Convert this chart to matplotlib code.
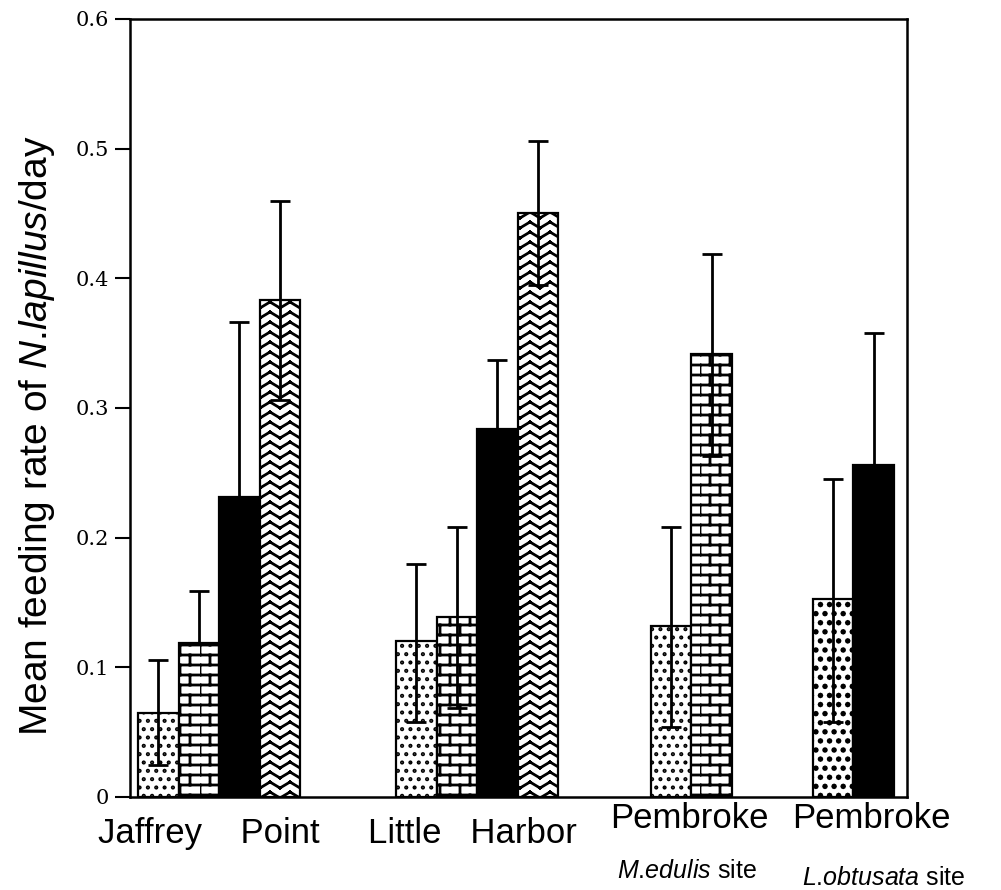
import warnings
import numpy as np
import matplotlib
matplotlib.use('Agg')
import matplotlib.pyplot as plt
import matplotlib.hatch as mhatch
from matplotlib.path import Path

warnings.filterwarnings('ignore')

# feeding rates (mean, upper and lower end of error bar)
sites = ['Jaffrey    Point', 'Little   Harbor', 'Pembroke', 'Pembroke']
subtitles = [None, None, ('M', 'edulis'), ('L', 'obtusata')]
patterns = [['dots', 'brick', 'black', 'wave'],
            ['dots', 'brick', 'black', 'wave'],
            ['dots', 'brick'],
            ['dense', 'black']]
means = [[0.065, 0.119, 0.231, 0.383],
         [0.120, 0.139, 0.284, 0.450],
         [0.132, 0.342],
         [0.153, 0.256]]
upper = [[0.106, 0.159, 0.366, 0.460],
         [0.180, 0.208, 0.337, 0.506],
         [0.208, 0.419],
         [0.245, 0.358]]
lower = [[0.025, np.nan, np.nan, 0.306],
         [0.058, 0.069, np.nan, 0.395],
         [0.054, 0.263],
         [0.058, np.nan]]
yticks = [0, 0.1, 0.2, 0.3, 0.4, 0.5, 0.6]
yticklabels = ['0', '0.1', '0.2', '0.3', '0.4', '0.5', '0.6']


# ---- custom hatches (brick, zigzag, dots) ----
def _segments(segs):
    v, c = [], []
    for p0, p1 in segs:
        v += [p0, p1]
        c += [Path.MOVETO, Path.LINETO]
    return np.array(v, float).reshape(-1, 2), np.array(c, Path.code_type)


def _dots(n, r):
    t = np.linspace(0, 2 * np.pi, 9)[:-1]
    v, c = [], []
    for i in range(n):
        for j in range(n):
            x = (j + 0.25 + 0.5 * (i % 2)) / n
            y = (i + 0.5) / n
            pts = np.c_[x + r / n * np.cos(t), y + r / n * np.sin(t)]
            v += list(pts) + [pts[0]]
            c += [Path.MOVETO] + [Path.LINETO] * 7 + [Path.CLOSEPOLY]
    return np.array(v, float), np.array(c, Path.code_type)


def _brick(rows=10, cols=5):
    segs = []
    for k in range(rows):
        y0 = (k + 0.5) / rows
        segs.append(((0, y0), (1, y0)))
        y1 = y0 + 1 / rows
        for j in range(cols):
            x = (j + 0.5 * (k % 2)) / cols
            if y1 > 1:
                segs.append(((x, y0), (x, 1)))
                segs.append(((x, 0), (x, y1 - 1)))
            else:
                segs.append(((x, y0), (x, y1)))
    return _segments(segs)


def _zigzag(rows=10, peaks=5):
    segs = []
    a = 0.3 / rows
    for r in range(rows):
        yb = (r + 0.5) / rows
        xs = np.arange(2 * peaks + 1) / (2 * peaks)
        ys = yb + np.where(np.arange(2 * peaks + 1) % 2 == 1, a, -a)
        for k in range(2 * peaks):
            segs.append(((xs[k], ys[k]), (xs[k + 1], ys[k + 1])))
    return _segments(segs)


def make_hatch(char, builder):
    class _Hatch(mhatch.HatchPatternBase):
        def __init__(self, hatch, density):
            if hatch and char in hatch:
                self.verts, self.codes = builder()
            else:
                self.verts, self.codes = np.empty((0, 2)), np.empty(0, Path.code_type)
            self.num_vertices = len(self.verts)

        def set_vertices_and_codes(self, vertices, codes):
            vertices[:] = self.verts
            codes[:] = self.codes
    return _Hatch


mhatch._hatch_types.extend([
    make_hatch('b', _brick),
    make_hatch('z', _zigzag),
    make_hatch('d', lambda: _dots(12, 0.08)),
    make_hatch('g', lambda: _dots(11, 0.15)),
])

styles = {
    'dots': dict(facecolor='white', hatch='d'),
    'brick': dict(facecolor='white', hatch='b'),
    'black': dict(facecolor='black', hatch=None),
    'wave': dict(facecolor='white', hatch='z'),
    'dense': dict(facecolor='white', hatch='g'),
}

plt.rcParams['hatch.linewidth'] = 2.0
plt.rcParams['hatch.color'] = 'black'
plt.rcParams['mathtext.fontset'] = 'custom'
plt.rcParams['mathtext.it'] = 'Liberation Sans:italic'
plt.rcParams['mathtext.rm'] = 'Liberation Sans'

fig = plt.figure(figsize=(10.01, 8.9), dpi=100)
ax = fig.add_axes([130 / 1001, 1 - 797 / 890, 777 / 1001, 778 / 890])

width = 1.0
group_start = [0.2, 6.57, 12.86, 16.86]
label_shift = [-0.25, -0.12, -0.05, 0.45]
sub_shift = [0, 0, -0.1, 0.75]
xt = ax.get_xaxis_transform()
for g in range(len(sites)):
    n = len(means[g])
    xs = group_start[g] + width * (np.arange(n) + 0.5)
    for x, m, p in zip(xs, means[g], patterns[g]):
        ax.bar(x, m, width=width, edgecolor='black', linewidth=1.6, zorder=2,
               **styles[p])
    m = np.array(means[g])
    lo = np.array(lower[g])
    lo = np.where(np.isnan(lo), m, lo)
    hi = np.array(upper[g])
    ax.errorbar(xs, m, yerr=[m - lo, hi - m], fmt='none', ecolor='black',
                elinewidth=2.0, capsize=7, capthick=2.0, zorder=3)
    cx = group_start[g] + width * n / 2
    if subtitles[g]:
        ax.text(cx + label_shift[g], -0.04, sites[g], transform=xt,
                ha='center', va='baseline', fontsize=25, family='Liberation Sans')
        yy = -0.104 if g == 2 else -0.113
        a, b = subtitles[g]
        ax.text(cx + sub_shift[g], yy, r'$\mathit{%s}$.$\mathit{%s}$ site' % (a, b),
                transform=xt, ha='center', va='baseline', fontsize=18,
                family='Liberation Sans')
    else:
        ax.text(cx + label_shift[g], -0.059, sites[g], transform=xt,
                ha='center', va='baseline', fontsize=25, family='Liberation Sans')

ax.set_xlim(0, 777 / 40.5)
ax.set_ylim(0, 0.6)
ax.set_xticks([])
ax.set_yticks(yticks)
ax.set_yticklabels(yticklabels, family='DejaVu Serif', fontsize=15)
ax.tick_params(axis='y', direction='out', length=11, width=1.5, pad=4)
for s in ax.spines.values():
    s.set_linewidth(1.8)

fig.text(37 / 1001, 1 - 436 / 890,
         r'Mean feeding rate of $\mathit{N}$.$\mathit{lapillus}$/day',
         rotation=90, ha='center', va='center', fontsize=28,
         family='Liberation Sans')

fig.savefig('out.png', dpi=100)
